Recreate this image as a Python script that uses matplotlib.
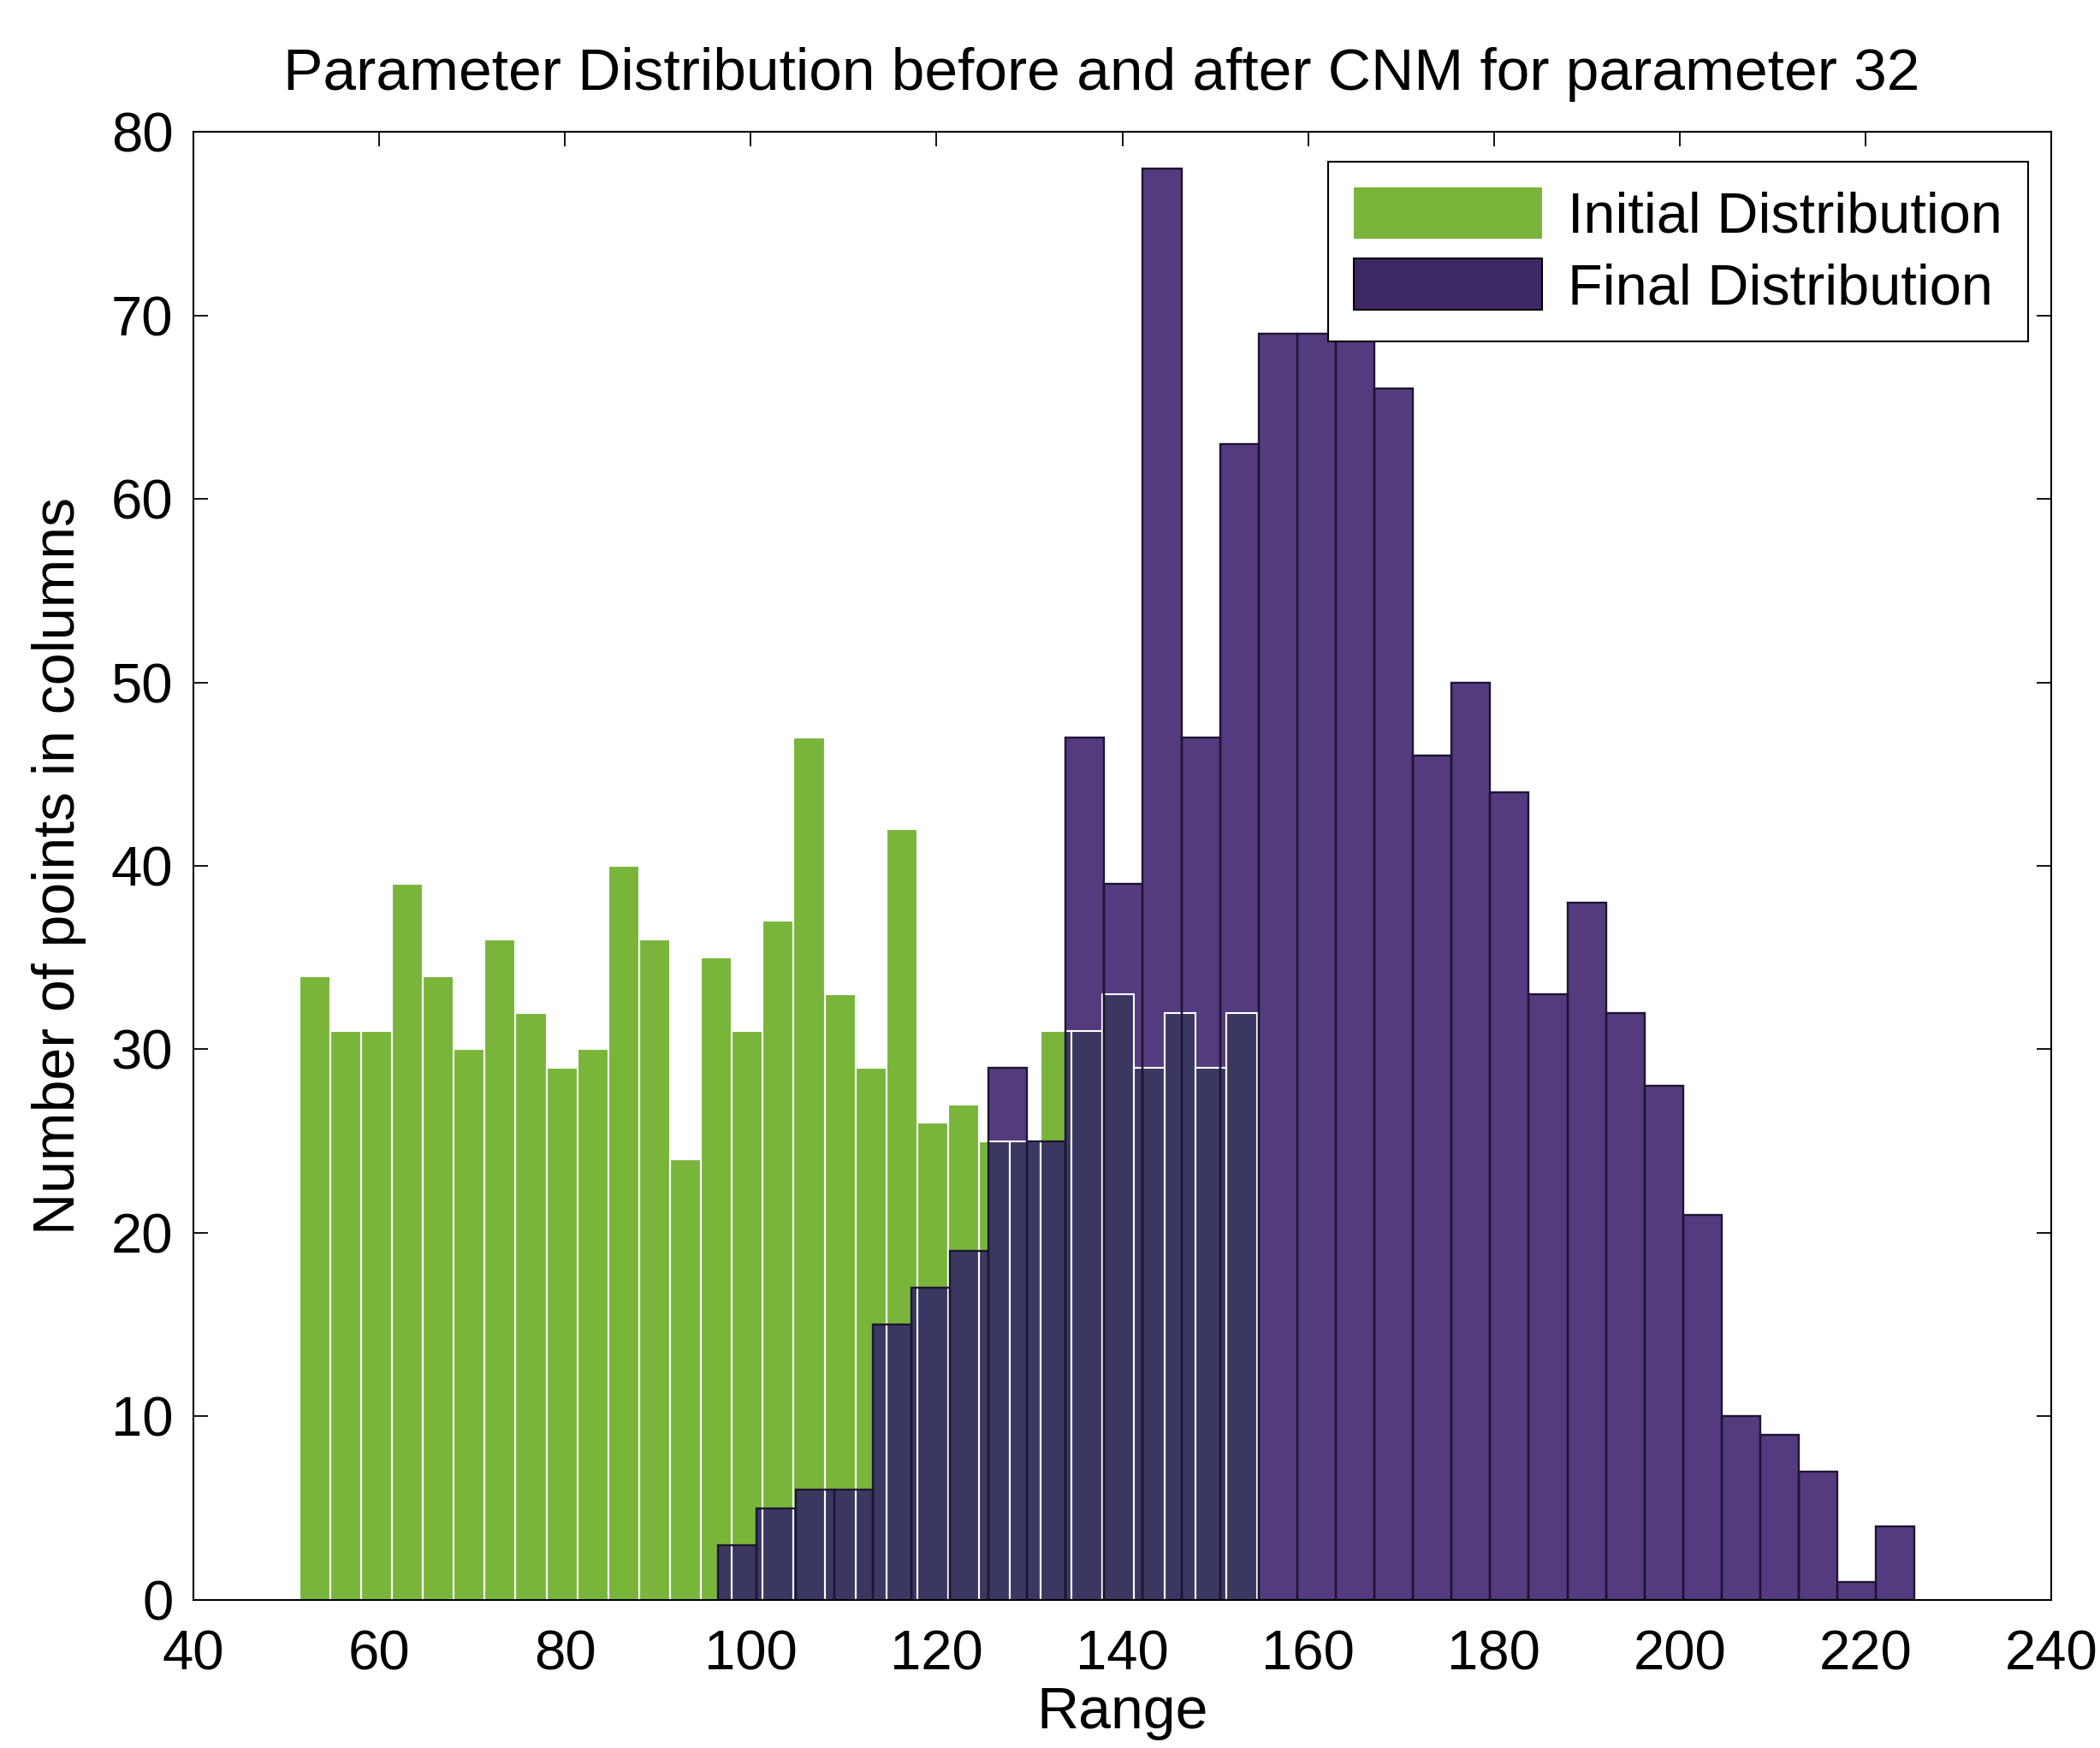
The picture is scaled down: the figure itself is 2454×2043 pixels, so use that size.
import numpy as np
import matplotlib
matplotlib.use('Agg')
import matplotlib.pyplot as plt
from matplotlib.patches import Patch

# histogram counts
initial_counts = [34, 31, 31, 39, 34, 30, 36, 32, 29, 30,
                  40, 36, 24, 35, 31, 37, 47, 33, 29, 42,
                  26, 27, 25, 25, 31, 31, 33, 29, 32, 29, 32]
final_counts = [3, 5, 6, 6, 15, 17, 19, 29, 25, 47,
                39, 78, 47, 63, 69, 69, 69, 66, 46, 50,
                44, 33, 38, 32, 28, 21, 10, 9, 7, 1, 4]
initial_range = (51.4, 154.5)   # first / last bin edge
final_range = (96.5, 225.3)

labels = ['Initial Distribution', 'Final Distribution']
title = 'Parameter Distribution before and after CNM for parameter 32'
xticks = list(range(40, 241, 20))
yticks = list(range(0, 81, 10))

GREEN = '#7ab53b'
PURPLE = '#543b80'
NAVY = '#3a3860'
LEG_PURPLE = '#3d2966'

plt.rcParams['font.family'] = ['Liberation Sans', 'DejaVu Sans']

init_edges = np.linspace(*initial_range, len(initial_counts) + 1)
fin_edges = np.linspace(*final_range, len(final_counts) + 1)


def step_value(x, edges, counts):
    '''height of a histogram at x (0 outside it)'''
    i = np.searchsorted(edges, x, side='right') - 1
    if i < 0 or i >= len(counts):
        return 0
    return counts[i]


fig = plt.figure(figsize=(24.54, 20.43), dpi=100)
ax = fig.add_axes([0.0921, 0.0847, 0.8847, 0.8399])

w_i = np.diff(init_edges)
w_f = np.diff(fin_edges)
ax.bar(init_edges[:-1], initial_counts, width=w_i, align='edge',
       color=GREEN, edgecolor='none', zorder=1)
ax.bar(fin_edges[:-1], final_counts, width=w_f, align='edge',
       color=PURPLE, edgecolor='none', zorder=1.1)

# overlapping part of the two histograms is drawn darker
merged = np.unique(np.concatenate([init_edges, fin_edges]))
mids = (merged[:-1] + merged[1:]) / 2
overlap = [min(step_value(m, init_edges, initial_counts),
               step_value(m, fin_edges, final_counts)) for m in mids]
ax.stairs(overlap, merged, fill=True, color=NAVY, zorder=1.2)

ax.bar(init_edges[:-1], initial_counts, width=w_i, align='edge',
       fill=False, edgecolor='white', linewidth=1.5, zorder=1.3)
ax.bar(fin_edges[:-1], final_counts, width=w_f, align='edge',
       fill=False, edgecolor='#1c1530', linewidth=1.7, zorder=1.4)

ax.set_xlim(40, 240)
ax.set_ylim(0, 80)
ax.set_xticks(xticks)
ax.set_yticks(yticks)
ax.set_axisbelow(True)
ax.tick_params(direction='in', length=12, width=1.3, top=True, right=True,
               labelsize=47)
ax.tick_params(axis='x', pad=25)
ax.tick_params(axis='y', pad=17)
for s in ax.spines.values():
    s.set_linewidth(1.5)

ax.set_title(title, fontsize=50, pad=35, x=0.489)
ax.set_xlabel('Range', fontsize=49, labelpad=4)
ax.set_ylabel('Number of points in columns', fontsize=49, labelpad=21)

handles = [Patch(facecolor=GREEN, edgecolor='none'),
           Patch(facecolor=LEG_PURPLE, edgecolor='black', linewidth=1.5)]
leg = ax.legend(handles, labels, loc='upper right',
                bbox_to_anchor=(0.9876, 0.9796), borderaxespad=0,
                fontsize=48, fancybox=False, framealpha=1,
                edgecolor='black', handlelength=3.3, handleheight=1.0,
                handletextpad=0.45, borderpad=0.45, labelspacing=0.25)
leg.get_frame().set_linewidth(1.5)

fig.savefig('out.png', dpi=100)
